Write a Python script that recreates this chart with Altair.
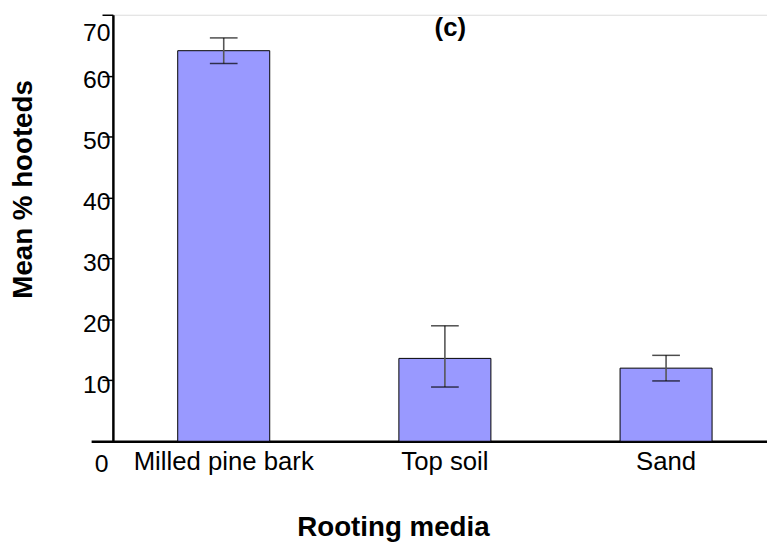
import altair as alt
import pandas as pd

categories = ["Milled pine bark", "Top soil", "Sand"]
means = [64.1, 13.6, 12.0]
err_low = [62.0, 8.9, 9.9]
err_high = [66.2, 18.95, 14.1]
y_ticks = [0, 10, 20, 30, 40, 50, 60, 70]

df = pd.DataFrame({"media": categories, "mean": means, "lo": err_low, "hi": err_high})

FONT = "Liberation Sans"
W, H = 661, 431

xscale = alt.Scale(domain=categories, range=[-22, 693], paddingInner=0.584, paddingOuter=0.3915)
yscale = alt.Scale(domain=[0, 70], nice=False, zero=True)

xaxis = alt.Axis(
    title="Rooting media", titleFont=FONT, titleFontSize=28, titleFontWeight="bold",
    titleColor="black", titleX=283, titleY=95, titleBaseline="alphabetic", titleAlign="center",
    labelFont=FONT, labelFontSize=26, labelColor="black", labelAngle=0, labelLimit=400,
    labelPadding=8, labelBaseline="top", ticks=False,
    domainColor="black", domainWidth=2.5,
)
yaxis = alt.Axis(
    title="Mean % hooteds", titleFont=FONT, titleFontSize=28, titleFontWeight="bold",
    titleColor="black", titleX=-90, titleY=176, titleBaseline="middle", titleAlign="center",
    values=y_ticks, labelFont=FONT, labelFontSize=25, labelColor="black",
    labelAlign="right", labelBaseline="middle",
    labelPadding={"condition": {"test": "datum.value === 0", "value": -6}, "value": -8},
    labelOffset={"condition": [{"test": "datum.value === 0", "value": 23},
                               {"test": "datum.value === 70", "value": 18}], "value": 4},
    tickSize=11, tickColor="black", tickWidth=1.5,
    domainColor="black", domainWidth=2.5, grid=False,
)

base = alt.Chart(df)

bars = base.mark_bar(color="#9999ff", stroke="black", strokeWidth=1).encode(
    x=alt.X("media:N", scale=xscale, axis=xaxis, sort=categories),
    y=alt.Y("mean:Q", scale=yscale, axis=yaxis),
)
stems = base.mark_rule(color="#555555", strokeWidth=1.6).encode(
    x=alt.X("media:N", scale=xscale, sort=categories),
    y=alt.Y("lo:Q", scale=yscale),
    y2="hi:Q",
)
caps_lo = base.mark_tick(color="black", size=28, thickness=1.5).encode(
    x=alt.X("media:N", scale=xscale, sort=categories),
    y=alt.Y("lo:Q", scale=yscale),
)
caps_hi = base.mark_tick(color="black", size=28, thickness=1.5).encode(
    x=alt.X("media:N", scale=xscale, sort=categories),
    y=alt.Y("hi:Q", scale=yscale),
)
panel = alt.Chart(pd.DataFrame({"t": ["(c)"]})).mark_text(
    font=FONT, fontSize=26, fontWeight="bold", color="black"
).encode(text="t:N", x=alt.value(341), y=alt.value(13))

chart = alt.layer(bars, stems, caps_lo, caps_hi, panel).properties(
    width=W, height=H,
    autosize=alt.AutoSizeParams(type="none"),
    padding={"left": 106, "top": 4, "right": 0, "bottom": 101},
).configure_view(stroke=None).configure(background="white")

chart.save("out.html", embed_options={"renderer": "svg", "actions": False})
